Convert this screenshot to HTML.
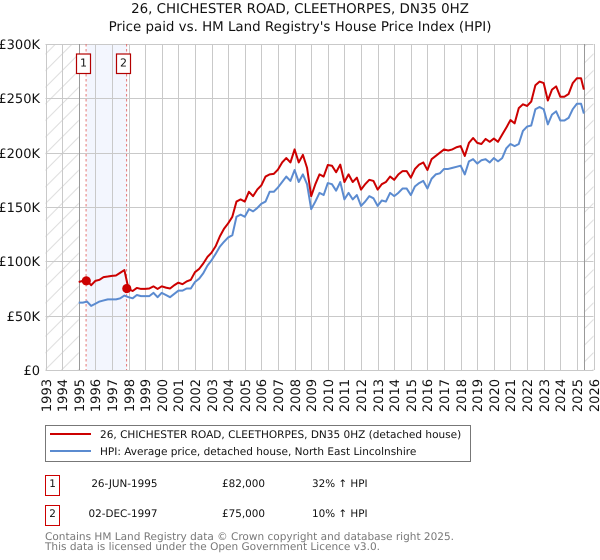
<!DOCTYPE html>
<html lang="en">
<head>
<meta charset="utf-8">
<title>26, Chichester Road price chart</title>
<style>
html,body{margin:0;padding:0;background:#fff;}
svg{display:block;font-family:"DejaVu Sans",sans-serif;}
</style>
</head>
<body>
<svg id="chart" xmlns="http://www.w3.org/2000/svg" width="600" height="560" viewBox="0 0 600 560" text-rendering="geometricPrecision">
  <defs>
    <pattern id="hatch" patternUnits="userSpaceOnUse" width="16.6" height="16.6">
      <path d="M-2 18.6L18.6 -2M-2 2L2 -2M14.6 18.6L18.6 14.6" stroke="#d8d8d8" stroke-width="0.9" fill="none"/>
    </pattern>
  </defs>
  <text x="300" y="13" font-size="13.4" text-anchor="middle" fill="#111">26, CHICHESTER ROAD, CLEETHORPES, DN35 0HZ</text>
  <text x="300" y="31" font-size="13.4" text-anchor="middle" fill="#111">Price paid vs. HM Land Registry's House Price Index (HPI)</text>
  <g id="plot"></g>

  <g>
    <rect x="45.5" y="425.5" width="425" height="36" fill="#fff" stroke="#777" stroke-width="1"/>
    <line x1="50" y1="434" x2="91" y2="434" stroke="#cc0000" stroke-width="2"/>
    <text x="100" y="438" font-size="10.52" fill="#111">26, CHICHESTER ROAD, CLEETHORPES, DN35 0HZ (detached house)</text>
    <line x1="50" y1="451" x2="91" y2="451" stroke="#5b8bd0" stroke-width="2"/>
    <text x="100" y="455" font-size="10.52" fill="#111">HPI: Average price, detached house, North East Lincolnshire</text>
  </g>

  <g font-size="10.4" fill="#111">
    <rect x="45.5" y="475.5" width="14" height="20" fill="#fff" stroke="#cc0000" stroke-width="1"/>
    <text x="52.5" y="487" text-anchor="middle">1</text>
    <text x="157.5" y="487" text-anchor="end">26-JUN-1995</text>
    <text x="222" y="487">£82,000</text>
    <text x="312" y="487">32% ↑ HPI</text>
    <rect x="45.5" y="505.5" width="14" height="20" fill="#fff" stroke="#cc0000" stroke-width="1"/>
    <text x="52.5" y="517" text-anchor="middle">2</text>
    <text x="157.5" y="517" text-anchor="end">02-DEC-1997</text>
    <text x="222" y="517">£75,000</text>
    <text x="312" y="517">10% ↑ HPI</text>
  </g>

  <text x="45" y="540" font-size="10.52" fill="#777">Contains HM Land Registry data © Crown copyright and database right 2025.</text>
  <text x="45" y="550" font-size="10.52" fill="#777">This data is licensed under the Open Government Licence v3.0.</text>
</svg>
<script>
// Chart data (values in £ thousands, one value per quarter from 1995.0; the last reading is mid-2025)
const yearTicks = [1993,1994,1995,1996,1997,1998,1999,2000,2001,2002,2003,2004,2005,2006,2007,2008,2009,2010,2011,2012,2013,2014,2015,2016,2017,2018,2019,2020,2021,2022,2023,2024,2025,2026];
const priceTicks = [0,50,100,150,200,250,300];
const priceTickLabels = ["£0","£50K","£100K","£150K","£200K","£250K","£300K"];
const seriesStartYear = 1995;
const lastReadingYear = 2025.42;
const priceSeries = [
  81,82,82,78, 82,83,85.5,86, 86.6,87,89.5,92,
  74.5,72.7,75.5,74.6, 74.6,75,77,74.6, 77,75.8,75,78,
  80.4,79,81.5,83, 90,93,98,104, 108,114,123,130,
  135,141,155,157, 155,164,160,166, 170,178,180,180.5,
  184.5,191,195,191, 203,191,198,186, 160,171,180,178,
  188.6,188,182,189, 173,180,173,177, 166,171,175,174,
  166,171,173,178, 175,180,183,183, 177,185,189,191,
  184,194,197,200, 203,202,203,205, 206,197,209,213.5,
  209,208,212.6,210, 213,210,216.6,223, 230,227,241,244.5,
  243,247,262,265.4, 264,248,258,261, 251.5,251.5,254,264,
  268.5,268.5,258
];
const hpiSeries = [
  62,62,63,59, 61,63,64,65, 65,65,66,68.5,
  67,66,69,68, 68,68,71,67, 71,69,67,70,
  73,73,75,75, 81,84,89,96, 101,107,113.5,118,
  122,124,141,143, 141,148,146,149, 153,155,164,164,
  168,173,178,174, 184,173,180,171, 148,155,163,161,
  172,171,165,173, 157,163,157,161, 151,155,160,158,
  151,156,155,163, 160,163,167,167, 161,169,172,174,
  167,176,180,181, 185,185,186,187, 188,180,192,194,
  190,193,194,191, 195,192,195,204, 208,206,208,220,
  224,225,240,242, 240,226,235,238, 229.6,229.6,232,240,
  245,245,236
];
const saleYears = [1995.48, 1997.92];
const salePrices = [82, 75];
const saleLabels = ["1", "2"];
const dataStartYear = 1995;
const dataEndYear = 2025.42;

// Axis functions
const plotLeft = 45.5, plotRight = 593.5, plotTop = 44, plotBottom = 370;
const xMin = yearTicks[0], xMax = yearTicks[yearTicks.length - 1];
const yMax = priceTicks[priceTicks.length - 1];
function xScale(year) { return plotLeft + (year - xMin) / (xMax - xMin) * (plotRight - plotLeft); }
function yScale(value) { return plotBottom - value / yMax * (plotBottom - plotTop); }
function seriesYear(i, n) { return i === n - 1 ? lastReadingYear : seriesStartYear + i * 0.25; }
function pathFor(values) {
  return values.map(function (v, i) {
    return (i ? "L" : "M") + xScale(seriesYear(i, values.length)).toFixed(2) + " " + yScale(v).toFixed(2);
  }).join("");
}

const NS = "http://www.w3.org/2000/svg";
const plot = document.getElementById("plot");
function make(tag, attrs, parent) {
  const el = document.createElementNS(NS, tag);
  Object.keys(attrs).forEach(function (k) { el.setAttribute(k, attrs[k]); });
  (parent || plot).appendChild(el);
  return el;
}

// Hatched regions outside the data range
const hatchLeft = make("rect", {x: plotLeft, y: plotTop, width: xScale(dataStartYear) - plotLeft, height: plotBottom - plotTop, fill: "url(#hatch)"});


const hatchRight = make("rect", {x: xScale(dataEndYear), y: plotTop, width: plotRight - xScale(dataEndYear), height: plotBottom - plotTop, fill: "url(#hatch)"});



// Band between the two sales
const band = make("rect", {x: xScale(saleYears[0]), y: plotTop, width: xScale(saleYears[1]) - xScale(saleYears[0]), height: plotBottom - plotTop, fill: "#f3f6fe"});



// Grid and ticks
yearTicks.forEach(function (year) {
  const x = Math.round(xScale(year)) + 0.5;
  const grid = make("line", {x1: x, x2: x, y1: plotTop, y2: plotBottom, stroke: "#c9c9c9", "stroke-width": 1});
  
  
  const label = make("text", {x: 0, y: 0, "font-size": 13, fill: "#111", "text-anchor": "end", transform: "translate(" + (x + 4.5) + " 379) rotate(-90)"});
  
  
  label.textContent = String(year);
});
priceTicks.forEach(function (tick, i) {
  const y = Math.round(yScale(tick)) + 0.5;
  const grid = make("line", {x1: plotLeft, x2: plotRight, y1: y, y2: y, stroke: "#c9c9c9", "stroke-width": 1});
  
  
  const label = make("text", {x: 40, y: y + 4.5, "font-size": 13, fill: "#111", "text-anchor": "end"});
  
  
  label.textContent = priceTickLabels[i];
});

// Data range boundaries
[dataStartYear, dataEndYear].forEach(function (year) {
  const x = Math.round(xScale(year)) + 0.5;
  const edge = make("line", {x1: x, x2: x, y1: plotTop, y2: plotBottom, stroke: "#999", "stroke-width": 1});
  
  
});

// Sale marker lines
saleYears.forEach(function (year) {
  const x = xScale(year) - 0.6;
  const line = make("line", {x1: x, x2: x, y1: plotTop, y2: plotBottom, stroke: "#e06060", "stroke-width": 1, "stroke-dasharray": "2.5 2.5", opacity: 0.85});
  
  
});

// Series
const hpiLine = make("path", {d: pathFor(hpiSeries), fill: "none", stroke: "#5b8bd0", "stroke-width": 2, "stroke-linejoin": "round"});


const priceLine = make("path", {d: pathFor(priceSeries), fill: "none", stroke: "#cc0000", "stroke-width": 2, "stroke-linejoin": "round"});



// Sale points and number badges
saleYears.forEach(function (year, i) {
  const dot = make("circle", {cx: xScale(year) - 0.4, cy: yScale(salePrices[i]), r: 4.6, fill: "#cc0000"});
  
  
  const cx = Math.round(xScale(year)) - 3;
  const box = make("rect", {x: cx - 7.5, y: 54, width: 14, height: 19.5, fill: "#fff", stroke: "#b30000", "stroke-width": 1.2});
  
  
  const label = make("text", {x: cx - 0.5, y: 66.5, "font-size": 11, fill: "#111", "text-anchor": "middle"});
  
  
  label.textContent = saleLabels[i];
});
</script>
</body>
</html>
